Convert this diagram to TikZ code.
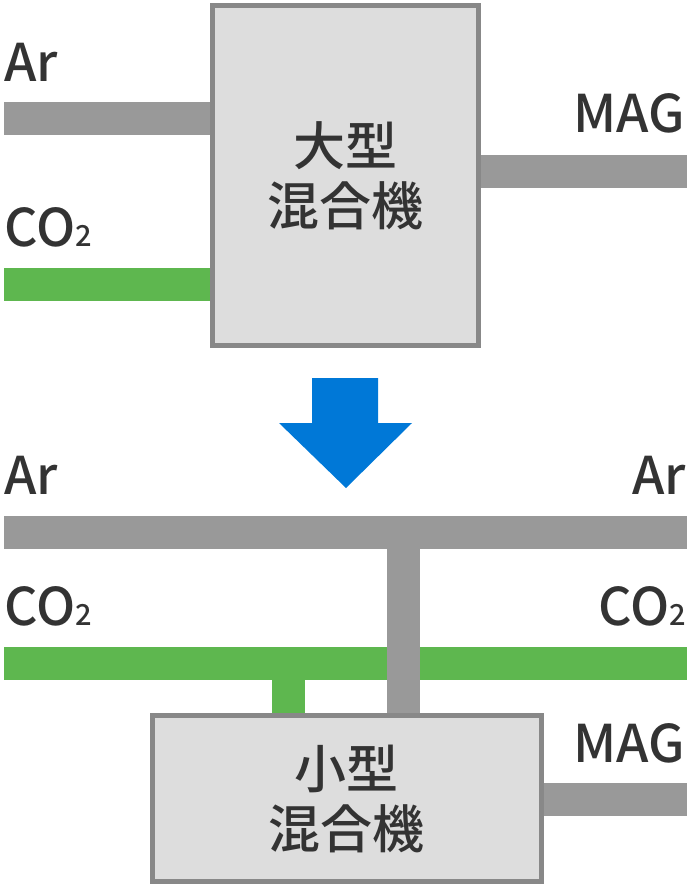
\documentclass[tikz,border=0pt]{standalone}
\usepackage{fontspec}
\setmainfont{Noto Sans CJK JP Medium}
\usepackage{tikz}
\usetikzlibrary{positioning, backgrounds}
\definecolor{mixgrey}{HTML}{999999}
\definecolor{mixgreen}{HTML}{5EB74F}
\definecolor{mixblue}{HTML}{0078D7}
\definecolor{mixbox}{HTML}{DDDDDD}
\definecolor{mixedge}{HTML}{888888}
\definecolor{mixtext}{HTML}{333333}
\newcommand\gassub[1]{{\fontsize{29}{29}\selectfont #1}}

\begin{document}
\begin{tikzpicture}[x=1pt, y=-1pt,
  mixer/.style={draw=mixedge, line width=5pt, fill=mixbox, align=center,
    text=mixtext, font=\fontsize{52}{60}\selectfont, inner sep=0pt},
  gaslabel/.style={text=mixtext, font=\fontsize{52}{60}\selectfont, inner sep=0pt},
  arpipe/.style={draw=mixgrey, line width=33pt},
  copipe/.style={draw=mixgreen, line width=33pt}]

  \useasboundingbox (0,0) rectangle (690,885);

  % large mixer
  \node[mixer, minimum width=266pt, minimum height=340pt] (bigmix) at (345.5,175.5) {大型\\混合機};
  \node[gaslabel, anchor=base west] (bigarlabel) at (4,82) {Ar};
  \node[gaslabel, anchor=base west] (bigcolabel) at (4,247) {CO\gassub{2}};
  \node[gaslabel, anchor=base east] (bigmaglabel) at (685,133) {MAG};
  \coordinate (bigarin) at (4,118.5);
  \coordinate (bigcoin) at (4,284.5);
  \coordinate (bigmagout) at (687,171.5);

  \begin{scope}[on background layer]
    \draw[arpipe] (bigarin) -- (bigarin -| bigmix.west);
    \draw[copipe] (bigcoin) -- (bigcoin -| bigmix.west);
    \draw[arpipe] (bigmagout -| bigmix.east) -- (bigmagout);
  \end{scope}

  % arrow
  \fill[mixblue] (312,378) -- (378,378) -- (378,423) -- (412,423) -- (346,488)
    -- (279,423) -- (312,423) -- cycle;

  % small mixer
  \node[mixer, minimum width=388.5pt, minimum height=166pt] (smallmix) at (346.75,798.5) {小型\\混合機};
  \node[gaslabel, anchor=base west] (arleftlabel) at (4,494) {Ar};
  \node[gaslabel, anchor=base east] (arrightlabel) at (686,494) {Ar};
  \node[gaslabel, anchor=base west] (coleftlabel) at (4,625) {CO\gassub{2}};
  \node[gaslabel, anchor=base east] (corightlabel) at (686,625) {CO\gassub{2}};
  \node[gaslabel, anchor=base east] (smallmaglabel) at (685,762) {MAG};
  \coordinate (arleft) at (4,532);
  \coordinate (arright) at (687,532);
  \coordinate (artap) at (403.5,532);
  \coordinate (coleft) at (4,663);
  \coordinate (coright) at (687,663);
  \coordinate (cotap) at (288,663);
  \coordinate (smallmagout) at (687,799.5);

  \begin{scope}[on background layer]
    \draw[copipe] (coleft) -- (coright);
    \draw[copipe] (cotap) -- (cotap |- smallmix.north);
    \draw[arpipe] (arleft) -- (arright);
    \draw[arpipe] (artap) -- (artap |- smallmix.north);
    \draw[arpipe] (smallmagout -| smallmix.east) -- (smallmagout);
  \end{scope}
\end{tikzpicture}
\end{document}
